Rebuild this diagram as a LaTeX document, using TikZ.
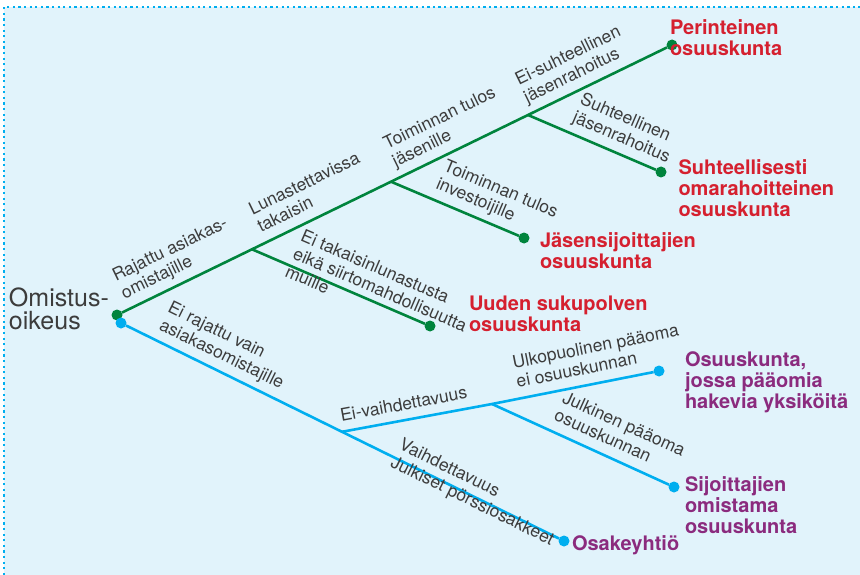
\documentclass[tikz,border=0pt]{standalone}
\usepackage{fontspec}
\setmainfont{TeX Gyre Heros}
\definecolor{bgblue}{HTML}{E1F3FB}
\definecolor{lineblue}{HTML}{00AEEF}
\definecolor{linegreen}{HTML}{00843D}
\definecolor{endred}{HTML}{D5202F}
\definecolor{endpurple}{HTML}{8B2B7E}
\definecolor{txtgray}{HTML}{3C3C3C}
\newcommand{\lstr}{\rule[-4pt]{0pt}{4pt}}
\begin{document}
\begin{tikzpicture}[x=1pt,y=-1pt,
  gline/.style={draw=linegreen, line width=2.6pt},
  bline/.style={draw=lineblue, line width=2.6pt},
  gdot/.style={circle, fill=linegreen, inner sep=0pt, outer sep=0pt, minimum size=11pt},
  bdot/.style={circle, fill=lineblue, inner sep=0pt, outer sep=0pt, minimum size=11pt},
  lbl/.style={font=\fontsize{17.5}{19.5}\selectfont, text=txtgray, align=left, inner sep=2pt, outer sep=0pt, sloped},
  endlbl/.style={font=\fontsize{20}{21}\selectfont\bfseries, align=left, inner sep=0pt, outer sep=0pt, anchor=north west},
  redlbl/.style={endlbl, text=endred},
  purplbl/.style={endlbl, text=endpurple},
  rootlbl/.style={font=\fontsize{25}{23}\selectfont, text=txtgray, align=left, inner sep=0pt, outer sep=0pt, anchor=north west}
]
\useasboundingbox (0,0) rectangle (860,575);
\fill[bgblue] (4,7) rectangle (860,575);
\draw[lineblue, line width=2.3pt, dash pattern=on 2.3pt off 3.3pt] (4,575) -- (4,7) -- (860,7);

% root text
\node[rootlbl] (root) at (9,287.6) {Omistus-\\oikeus};

% dots
\node[gdot] (groot) at (117,315) {};
\node[bdot] (broot) at (121,323) {};
\node[gdot] (perin) at (672,45) {};
\node[gdot] (suht) at (661,172) {};
\node[gdot] (jasen) at (524,238) {};
\node[gdot] (uuden) at (430,326) {};
\node[bdot] (osk) at (659,371) {};
\node[bdot] (sij) at (674,487) {};
\node[bdot] (osake) at (564,541) {};

% junctions
\coordinate (g1) at (252,249.3);
\coordinate (g2) at (391,181.7);
\coordinate (g3) at (528,115);
\coordinate (b1) at (342,431.8);
\coordinate (b2) at (492,404);

% green tree
\draw[gline] (groot)
  -- node[lbl, above=5pt, pos=0.49] {Rajattu asiakas-\\omistajille\lstr} (g1)
  -- node[lbl, above=5pt, pos=0.49] {Lunastettavissa\\takaisin\lstr} (g2)
  -- node[lbl, above=5pt, pos=0.47] {Toiminnan tulos\\jäsenille\lstr} (g3)
  -- node[lbl, above=5pt, pos=0.40] {Ei-suhteellinen\\jäsenrahoitus\lstr} (perin);
\draw[gline] (g1) -- node[lbl, above=-18pt, pos=0.71] {Ei takaisinlunastusta\\eikä siirtomahdollisuutta\\muille\lstr} (uuden);
\draw[gline] (g2) -- node[lbl, above=5pt, pos=0.75] {Toiminnan tulos\\investoijille\lstr} (jasen);
\draw[gline] (g3) -- node[lbl, above=5pt, pos=0.68] {Suhteellinen\\jäsenrahoitus\lstr} (suht);

% blue tree
\draw[bline] (broot)
  -- node[lbl, above=5pt, pos=0.41] {Ei rajattu vain\\asiakasomistajille\lstr} (b1)
  -- node[lbl, above=-16pt, pos=0.61] {Vaihdettavuus\\Julkiset pörssiosakkeet\lstr} (osake);
\draw[bline] (b1)
  -- node[lbl, above=4pt, pos=0.43] {Ei-vaihdettavuus\lstr} (b2)
  -- node[lbl, above=5pt, pos=0.685] {Ulkopuolinen pääoma\\ei osuuskunnan\lstr} (osk);
\draw[bline] (b2) -- node[lbl, above=5pt, pos=0.66] {Julkinen pääoma\\osuuskunnan\lstr} (sij);

% end labels
\node[redlbl] (perinL) at (670,19.6) {Perinteinen\\osuuskunta};
\node[redlbl] (suhtL) at (678.5,159.6) {Suhteellisesti\\omarahoitteinen\\osuuskunta};
\node[redlbl] (jasenL) at (540,232.6) {Jäsensijoittajien\\osuuskunta};
\node[redlbl] (uudenL) at (469,295.6) {Uuden sukupolven\\osuuskunta};
\node[purplbl] (oskL) at (685,352) {Osuuskunta,\\jossa pääomia\\hakevia yksiköitä};
\node[purplbl] (sijL) at (685,477) {Sijoittajien\\omistama\\osuuskunta};
\node[purplbl] (osakeL) at (572,535.6) {Osakeyhtiö};
\end{tikzpicture}
\end{document}
